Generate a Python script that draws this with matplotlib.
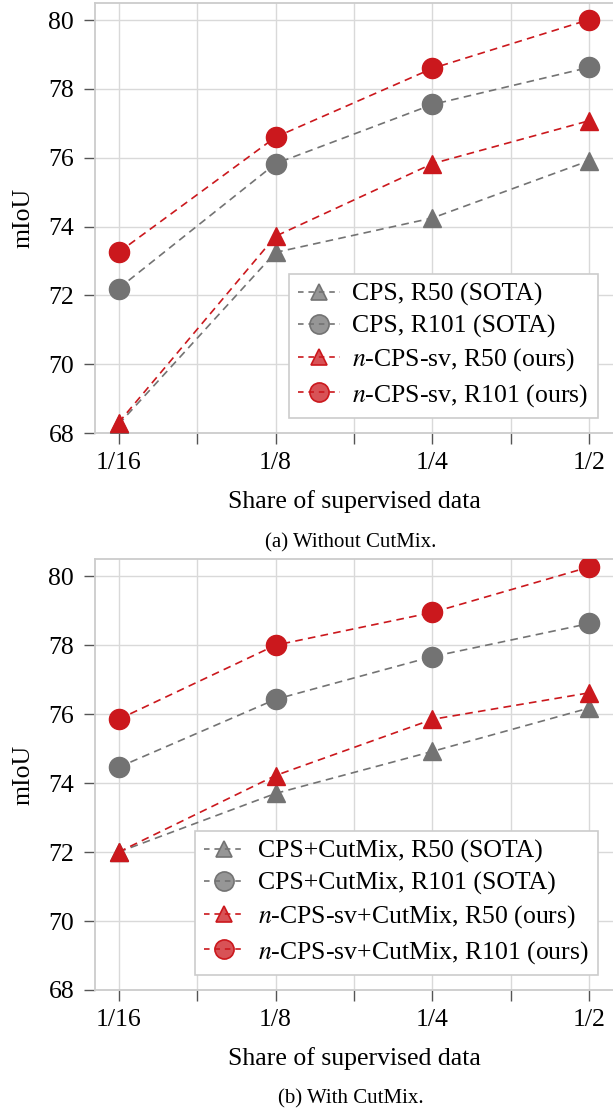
import matplotlib
matplotlib.use("Agg")
import matplotlib.pyplot as plt
from matplotlib.lines import Line2D
from matplotlib.colors import to_rgba

plt.rcParams['font.family'] = ['Liberation Serif', 'DejaVu Serif']
plt.rcParams['mathtext.fontset'] = 'stix'
plt.rcParams['lines.scale_dashes'] = False

# ---- data ----
shares = ['1/16', '1/8', '1/4', '1/2']

a_cps_r50 = [68.25, 73.25, 74.25, 75.92]
a_cps_r101 = [72.2, 75.83, 77.55, 78.63]
a_ours_r50 = [68.3, 73.72, 75.83, 77.08]
a_ours_r101 = [73.25, 76.6, 78.6, 80.02]

b_cps_r50 = [72.0, 73.7, 74.92, 76.18]
b_cps_r101 = [74.46, 76.43, 77.67, 78.63]
b_ours_r50 = [72.0, 74.22, 75.85, 76.62]
b_ours_r101 = [75.85, 78.0, 78.95, 80.27]

labels_a = ['CPS, R50 (SOTA)', 'CPS, R101 (SOTA)',
            '$n$-CPS-sv, R50 (ours)', '$n$-CPS-sv, R101 (ours)']
labels_b = ['CPS+CutMix, R50 (SOTA)', 'CPS+CutMix, R101 (SOTA)',
            '$n$-CPS-sv+CutMix, R50 (ours)', '$n$-CPS-sv+CutMix, R101 (ours)']
captions = ['(a) Without CutMix.', '(b) With CutMix.']
yticks = [68, 70, 72, 74, 76, 78, 80]

RED = '#cb181d'
GREY = '#737373'
DASH = (5.5, 3.8)
FS = 18.5

fig = plt.figure(figsize=(6.13, 11.09), dpi=100)
W, H = 613, 1109

def make_ax(top_px, bot_px):
    left_px, right_px = 95, 613
    return fig.add_axes([left_px / W, 1 - bot_px / H,
                         (right_px - left_px) / W, (bot_px - top_px) / H])

ax_a = make_ax(3, 433)
ax_b = make_ax(559, 990)

def draw(ax, series, labels, caption, cap_y):
    x = list(range(len(shares)))
    styles = [(GREY, '^', 12.5), (GREY, 'o', 14.5), (RED, '^', 12.5), (RED, 'o', 14.5)]
    handles = []
    for vals, (c, m, ms), lab in zip(series, styles, labels):
        ax.plot(x, vals, linestyle='--', dashes=DASH, color=c, lw=1.2,
                marker=m, ms=ms, mfc=c, mec=c, zorder=3)
        handles.append(Line2D([], [], linestyle='--', dashes=(4, 3.5), color=c, lw=1.2,
                              marker=m, ms=ms * 0.95, mfc=to_rgba(c, 0.75),
                              mec=c, mew=1.2))
    ax.set_xlim(-0.15, 3.15)
    ax.set_ylim(68, 80.5)
    ticks = [0, 0.5, 1, 1.5, 2, 2.5, 3]
    ax.set_xticks(ticks)
    ax.set_xticklabels([shares[int(t)] if t == int(t) else '' for t in ticks],
                       fontsize=FS)
    ax.set_yticks(yticks)
    ax.set_yticklabels([str(v) for v in yticks], fontsize=FS)
    ax.grid(True, color='#d9d9d9', lw=1.0, zorder=0)
    ax.set_axisbelow(True)
    for s in ax.spines.values():
        s.set_color('#cccccc')
        s.set_linewidth(1.3)
    ax.spines['right'].set_visible(False)
    ax.tick_params(axis='both', direction='out', length=8, width=1.0,
                   color='#555555', pad=7)
    ax.tick_params(axis='x', pad=6)
    ax.set_xlabel('Share of supervised data', fontsize=FS, labelpad=11)
    ax.set_ylabel('mIoU', fontsize=FS, labelpad=10)
    leg = ax.legend(handles, labels, loc='lower right', fontsize=FS,
                    handlelength=1.6, handletextpad=0.5, labelspacing=0.33,
                    borderpad=0.35, borderaxespad=0.6, fancybox=False,
                    framealpha=1.0, edgecolor='#cccccc')
    leg.get_frame().set_linewidth(1.2)
    fig.text(0.5 * (95 + 613) / W - 0.005, 1 - cap_y / H, caption,
             ha='center', va='center', fontsize=15)

draw(ax_a, [a_cps_r50, a_cps_r101, a_ours_r50, a_ours_r101], labels_a, captions[0], 543)
draw(ax_b, [b_cps_r50, b_cps_r101, b_ours_r50, b_ours_r101], labels_b, captions[1], 1099)

fig.savefig('out.png', dpi=100)
